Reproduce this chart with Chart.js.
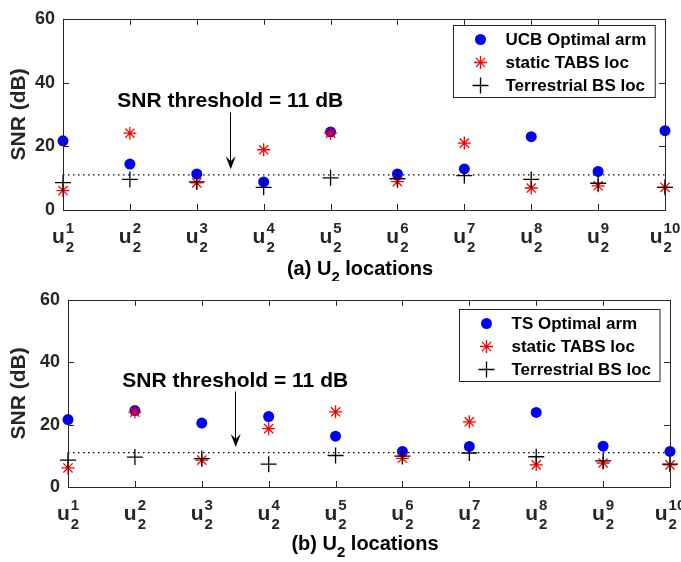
<!DOCTYPE html>
<html>
<head>
<meta charset="utf-8">
<script src="https://cdn.jsdelivr.net/npm/chart.js@4/dist/chart.umd.min.js"></script>
<style>
  html, body { margin: 0; padding: 0; background: #ffffff; }
  #wrap { position: relative; width: 681px; height: 562px; }
  .panel { position: absolute; left: 0; width: 681px; height: 281px; }
</style>
</head>
<body>
<div id="wrap">
  <div class="panel" style="top:0px"><canvas id="chartA" width="681" height="281"></canvas></div>
  <div class="panel" style="top:281px"><canvas id="chartB" width="681" height="281"></canvas></div>
</div>
<script>
// x positions 1..10 are the user locations u_2^k
var locIndex = [1, 2, 3, 4, 5, 6, 7, 8, 9, 10];
var tickSup = ["1", "2", "3", "4", "5", "6", "7", "8", "9", "10"];
var yTicks = [0, 20, 40, 60];
var snrThreshold = 11;

// panel (a) - UCB
var ucbOptimal = [21.7, 14.4, 11.3, 8.8, 24.5, 11.3, 12.9, 23.0, 12.1, 24.9];
var staticTabsA = [6.1, 24.1, 8.5, 18.9, 24.1, 8.9, 21.0, 6.9, 7.6, 7.1];
var terrestrialA = [8.6, 9.6, 8.8, 7.1, 10.1, 9.8, 10.8, 9.6, 8.4, 7.1];

// panel (b) - TS
var tsOptimal = [21.6, 24.5, 20.5, 22.6, 16.3, 11.4, 13.0, 23.9, 13.1, 11.4];
var staticTabsB = [6.1, 24.0, 8.6, 18.7, 24.1, 9.2, 20.9, 7.1, 7.7, 7.1];
var terrestrialB = [8.6, 9.6, 9.1, 7.3, 10.1, 9.9, 10.9, 9.7, 8.4, 7.3];

var FONT = "'Liberation Sans', Arial, Helvetica, sans-serif";
var AXIS_COLOR = "#262626";

function toPoints(values) {
  return values.map(function(v, i) { return {x: locIndex[i], y: v}; });
}

// box, inward ticks, tick labels, legend and annotation (MATLAB look)
var matlabAxes = {
  id: "matlabAxes",
  afterDatasetsDraw: function(chart) {
    var ctx = chart.ctx;
    var area = chart.chartArea;
    var xs = chart.scales.x, ys = chart.scales.y;
    var cfg = chart.options.plugins.matlabAxes;
    ctx.save();

    // box
    ctx.strokeStyle = AXIS_COLOR;
    ctx.lineWidth = 1;
    ctx.strokeRect(Math.round(area.left) + 0.5, Math.round(area.top) + 0.5,
      Math.round(area.right - area.left), Math.round(area.bottom - area.top));

    // inward ticks
    ctx.beginPath();
    locIndex.forEach(function(v) {
      var px = Math.round(xs.getPixelForValue(v)) + 0.5;
      ctx.moveTo(px, area.bottom); ctx.lineTo(px, area.bottom - 6);
      ctx.moveTo(px, area.top); ctx.lineTo(px, area.top + 6);
    });
    yTicks.forEach(function(v) {
      var py = Math.round(ys.getPixelForValue(v)) + 0.5;
      ctx.moveTo(area.left, py); ctx.lineTo(area.left + 6, py);
      ctx.moveTo(area.right, py); ctx.lineTo(area.right - 6, py);
    });
    ctx.stroke();

    // x tick labels u_2^k
    ctx.fillStyle = AXIS_COLOR;
    ctx.textBaseline = "alphabetic";
    locIndex.forEach(function(v, i) {
      var px = xs.getPixelForValue(v);
      ctx.font = "bold 21px " + FONT;
      var uw = ctx.measureText("u").width;
      ctx.font = "bold 15px " + FONT;
      var sw = ctx.measureText(tickSup[i]).width;
      var total = uw + Math.max(sw, ctx.measureText("2").width) + 1;
      var x0 = px - total / 2;
      var base = area.bottom + 33;
      ctx.font = "bold 21px " + FONT;
      ctx.textAlign = "left";
      ctx.fillText("u", x0, base);
      ctx.font = "bold 15px " + FONT;
      ctx.fillText(tickSup[i], x0 + uw + 1, base - 10);
      ctx.fillText("2", x0 + uw + 1, base + 9);
    });

    // x title "(x) U_2 locations"
    ctx.fillStyle = "#000000";
    ctx.font = "bold 20px " + FONT;
    var p1 = cfg.title + " U", p2 = " locations";
    var w1 = ctx.measureText(p1).width, w3 = ctx.measureText(p2).width;
    ctx.font = "bold 15px " + FONT;
    var w2 = ctx.measureText("2").width;
    var tx = (area.left + area.right) / 2 - 4 - (w1 + w2 + w3) / 2;
    var tb = area.bottom + cfg.titleOffset;
    ctx.font = "bold 20px " + FONT;
    ctx.fillText(p1, tx, tb);
    ctx.font = "bold 15px " + FONT;
    ctx.fillText("2", tx + w1, tb + 7);
    ctx.font = "bold 20px " + FONT;
    ctx.fillText(p2, tx + w1 + w2, tb);

    // threshold annotation with arrow
    var ax = xs.getPixelForValue(cfg.arrowX);
    ctx.font = "bold 21px " + FONT;
    ctx.textAlign = "center";
    ctx.fillText("SNR threshold = " + snrThreshold + " dB", ax, ys.getPixelForValue(cfg.textY));
    var aTop = ys.getPixelForValue(cfg.arrowTop), aTip = ys.getPixelForValue(cfg.arrowTip);
    ctx.strokeStyle = "#000000";
    ctx.lineWidth = 1;
    ctx.beginPath();
    ctx.moveTo(Math.round(ax) + 0.5, aTop);
    ctx.lineTo(Math.round(ax) + 0.5, aTip - 6);
    ctx.stroke();
    ctx.beginPath();
    ctx.moveTo(ax - 4.5, aTip - 13);
    ctx.lineTo(ax + 0.5, aTip);
    ctx.lineTo(ax + 5.5, aTip - 13);
    ctx.lineTo(ax + 0.5, aTip - 8);
    ctx.closePath();
    ctx.fillStyle = "#000000";
    ctx.fill();

    // legend
    var items = chart.data.datasets.filter(function(d) { return d.inLegend; });
    ctx.font = "bold 17px " + FONT;
    var maxW = 0;
    items.forEach(function(d) { maxW = Math.max(maxW, ctx.measureText(d.label).width); });
    var lw = 52 + maxW + 9;
    var lh = 72;
    var lx = Math.round(area.right - 10 - lw) + 0.5;
    var ly = Math.round(area.top + cfg.legendTop) + 0.5;
    ctx.fillStyle = "#ffffff";
    ctx.fillRect(lx, ly, lw, lh);
    ctx.strokeStyle = AXIS_COLOR;
    ctx.strokeRect(lx, ly, lw, lh);
    ctx.textAlign = "left";
    ctx.textBaseline = "middle";
    items.forEach(function(d, i) {
      var rowY = ly + 14 + i * 23;
      ctx.save();
      ctx.fillStyle = d.backgroundColor;
      ctx.strokeStyle = d.borderColor;
      ctx.lineWidth = d.borderWidth;
      if (d.pointStyle === "circle") {
        ctx.beginPath();
        ctx.arc(lx + 27, rowY, d.pointRadius, 0, Math.PI * 2);
        ctx.fill();
      } else {
        Chart.helpers.drawPoint(ctx, {pointStyle: d.pointStyle, radius: d.pointRadius, rotation: 0, borderWidth: d.borderWidth}, lx + 27, rowY);
      }
      ctx.restore();
      ctx.fillStyle = "#000000";
      ctx.fillText(d.label, lx + 52, rowY + 1);
    });

    ctx.restore();
  }
};

function makePanel(canvasId, optLabel, optValues, tabsValues, terrValues, p) {
  var ctx = document.getElementById(canvasId).getContext("2d");
  var threshold = locIndex.map(function() { return snrThreshold; });

  return new Chart(ctx, {
    type: "scatter",
    data: {
      datasets: [
        {
          label: optLabel,
          data: toPoints(optValues),
          inLegend: true,
          pointStyle: "circle",
          pointRadius: 5.5,
          pointHoverRadius: 5.5,
          backgroundColor: "#0000ff",
          borderColor: "#0000ff",
          borderWidth: 0,
          clip: false,
          order: 3
        },
        {
          label: "static TABS loc",
          data: toPoints(tabsValues),
          inLegend: true,
          pointStyle: "star",
          pointRadius: 6.5,
          pointHoverRadius: 6.5,
          backgroundColor: "#ff0000",
          borderColor: "#ff0000",
          borderWidth: 1.3,
          clip: false,
          order: 2
        },
        {
          label: "Terrestrial BS loc",
          data: toPoints(terrValues),
          inLegend: true,
          pointStyle: "cross",
          pointRadius: 8,
          pointHoverRadius: 8,
          backgroundColor: "#000000",
          borderColor: "#000000",
          borderWidth: 1.3,
          clip: false,
          order: 1
        },
        {
          label: "threshold",
          type: "line",
          data: toPoints(threshold),
          inLegend: false,
          borderColor: "#000000",
          borderWidth: 1.2,
          borderDash: [1.5, 3.5],
          pointRadius: 0,
          fill: false,
          order: 4
        }
      ]
    },
    options: {
      responsive: false,
      animation: false,
      events: [],
      layout: {
        padding: {left: 0, right: 681 - p.right, top: p.top, bottom: 0}
      },
      plugins: {
        legend: {display: false},
        tooltip: {enabled: false},
        matlabAxes: {
          title: p.title,
          titleOffset: p.titleOffset,
          legendTop: p.legendTop,
          arrowX: 3.5,
          textY: 32.2,
          arrowTop: 30.6,
          arrowTip: 12.8
        }
      },
      scales: {
        x: {
          type: "linear",
          min: 1,
          max: 10,
          grid: {display: false, drawTicks: false},
          border: {display: false},
          ticks: {display: false},
          afterFit: function(scale) { scale.height = 281 - p.bottom; }
        },
        y: {
          min: 0,
          max: 60,
          grid: {display: false, drawTicks: false},
          border: {display: false},
          ticks: {
            stepSize: 20,
            padding: 8,
            color: AXIS_COLOR,
            font: {family: FONT, size: 18, weight: "bold"}
          },
          title: {
            display: true,
            text: "SNR (dB)",
            color: AXIS_COLOR,
            padding: {top: 7, bottom: 0},
            font: {family: FONT, size: 21, weight: "bold"}
          },
          afterFit: function(scale) { scale.width = p.left; }
        }
      }
    },
    plugins: [matlabAxes]
  });
}

makePanel("chartA", "UCB Optimal arm", ucbOptimal, staticTabsA, terrestrialA,
  {left: 63, right: 665, top: 12, bottom: 210, title: "(a)", titleOffset: 65, legendTop: 6});
makePanel("chartB", "TS Optimal arm", tsOptimal, staticTabsB, terrestrialB,
  {left: 68, right: 670, top: 12, bottom: 206, title: "(b)", titleOffset: 63, legendTop: 9});
</script>
</body>
</html>
